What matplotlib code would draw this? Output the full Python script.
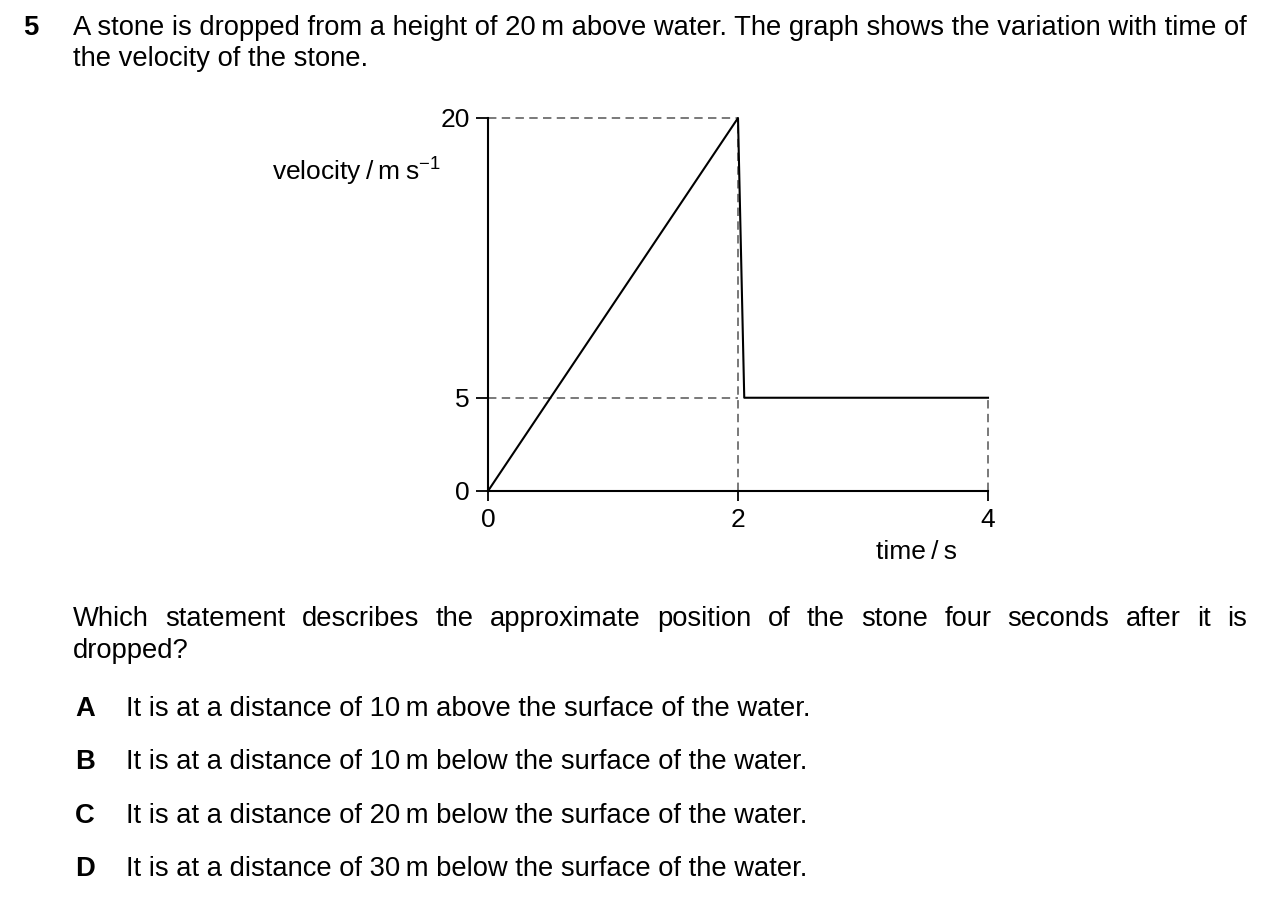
import matplotlib
matplotlib.use('Agg')
import matplotlib.pyplot as plt

plt.rcParams['font.family'] = ['Liberation Sans', 'DejaVu Sans']
plt.rcParams['mathtext.fontset'] = 'custom'
plt.rcParams['mathtext.rm'] = 'Liberation Sans'
plt.rcParams['mathtext.it'] = 'Liberation Sans'

# ======================================
# Data
# ======================================
time_s   = [0, 2, 2.05, 4]
velocity = [0, 20, 5, 5]

xticks = [0, 2, 4]
yticks = [0, 5, 20]

question = ['A stone is dropped from a height of 20\u2009m above water. The graph shows the variation with time of',
            'the velocity of the stone.']
prompt   = ['Which statement describes the approximate position of the stone four seconds after it is',
            'dropped?']
letters  = ['A', 'B', 'C', 'D']
options  = ['It is at a distance of 10\u2009m above the surface of the water.',
            'It is at a distance of 10\u2009m below the surface of the water.',
            'It is at a distance of 20\u2009m below the surface of the water.',
            'It is at a distance of 30\u2009m below the surface of the water.']

W, H = 1280, 916
fs  = 19.7   # body text
tfs = 19.0   # graph text
fig = plt.figure(figsize=(W/100, H/100), dpi=100)

def px(x, y):
    return x/W, 1 - y/H

# ======================================
# Axes
# ======================================
x0, x1 = 488, 988
y0, y1 = 491, 118
ax = fig.add_axes([x0/W, 1 - y0/H, (x1-x0)/W, (y0-y1)/H])
ax.set_xlim(0, 4)
ax.set_ylim(0, 20)
for s in ['top', 'right']:
    ax.spines[s].set_visible(False)
for s in ['left', 'bottom']:
    ax.spines[s].set_linewidth(1.5)
ax.set_xticks(xticks)
ax.set_yticks(yticks)
ax.tick_params(axis='y', length=9, width=1.3, pad=4, labelsize=tfs)
ax.tick_params(axis='x', length=7, width=1.3, pad=5, labelsize=tfs)

dash = dict(color='#555555', lw=1.1, ls=(0, (5.5, 3.5)), clip_on=False, zorder=1)
ax.plot([0, 2], [20, 20], **dash)
ax.plot([0, 2], [5, 5], **dash)
ax.plot([2, 2], [0, 20], **dash)
ax.plot([4, 4], [0, 5], **dash)

ax.plot(time_s, velocity, color='black', lw=1.5, clip_on=False, zorder=3)

fig.text(*px(441, 172), 'velocity\u2009/\u2009m\u2009s$^{\u22121}$', fontsize=tfs, ha='right', va='center')
fig.text(*px(916, 552), 'time\u2009/\u2009s', fontsize=tfs, ha='center', va='center')

# ======================================
# Question text
# ======================================
fig.text(*px(23, 28), '5', fontsize=fs, fontweight='bold', va='center')
fig.text(*px(73, 28), question[0], fontsize=fs, va='center')
fig.text(*px(73, 59), question[1], fontsize=fs, va='center')

# justified line
renderer = fig.canvas.get_renderer()
words = prompt[0].split(' ')
widths = []
for w in words:
    t = fig.text(0, 0, w, fontsize=fs)
    widths.append(t.get_window_extent(renderer).width)
    t.remove()
left, right = 73, 1247
gap = (right - left - sum(widths)) / (len(words) - 1)
xpos = left
for w, wd in zip(words, widths):
    fig.text(*px(xpos, 619), w, fontsize=fs, va='center')
    xpos += wd + gap
fig.text(*px(73, 651), prompt[1], fontsize=fs, va='center')

for i, (l, o) in enumerate(zip(letters, options)):
    yy = [709, 762, 816, 869][i]
    fig.text(*px(75, yy), l, fontsize=fs, fontweight='bold', va='center')
    fig.text(*px(126, yy), o, fontsize=fs, va='center')

fig.savefig('out.png', dpi=100)
